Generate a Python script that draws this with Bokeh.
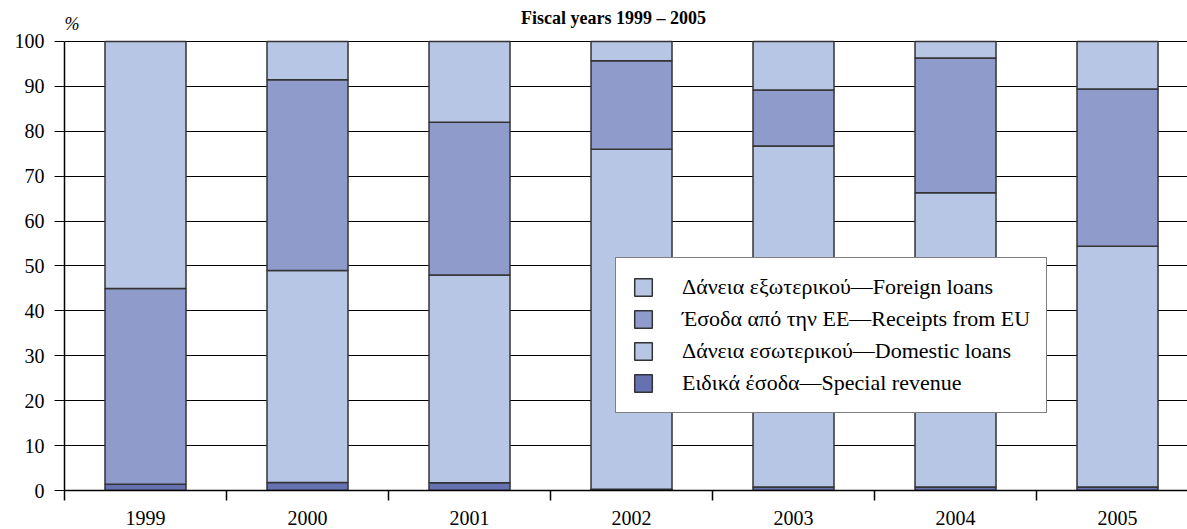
from bokeh.plotting import figure
from bokeh.models import ColumnDataSource, FixedTicker, Legend, LegendItem, Range1d
from bokeh.core.properties import value
from bokeh.embed import file_html
from bokeh.resources import INLINE

years = ["1999", "2000", "2001", "2002", "2003", "2004", "2005"]
special = [1.4, 1.8, 1.7, 0.3, 0.8, 0.8, 0.8]
domestic = [0.0, 47.2, 46.3, 75.7, 75.9, 65.5, 53.6]
eu = [43.6, 42.5, 34.0, 19.7, 12.5, 30.0, 35.0]
foreign = [55.0, 8.5, 18.0, 4.3, 10.8, 3.7, 10.6]

labels = {
    "foreign": "Δάνεια εξωτερικού—Foreign loans",
    "eu": "Έσοδα από την ΕΕ—Receipts from EU",
    "domestic": "Δάνεια εσωτερικού—Domestic loans",
    "special": "Ειδικά έσοδα—Special revenue",
}
colors = {"special": "#6571B0", "domestic": "#B7C6E5", "eu": "#8F9CCB", "foreign": "#B7C6E5"}
title_text = "Fiscal years 1999 – 2005"
unit_text = "%"

FONT = "Liberation Serif"

src = ColumnDataSource(dict(x=list(range(len(years))), special=special, domestic=domestic, eu=eu, foreign=foreign))

p = figure(width=1187, height=529, output_backend="svg", toolbar_location=None, title=None,
           x_range=Range1d(-0.5, 6.432), y_range=Range1d(0, 109.13),
           min_border_left=64, min_border_right=0, min_border_top=0, min_border_bottom=39)
p.outline_line_color = None
p.background_fill_color = "white"
p.border_fill_color = "white"

stack = ["special", "domestic", "eu", "foreign"]
rs = p.vbar_stack(stack, x="x", width=0.5, source=src,
                  color=[colors[s] for s in stack],
                  line_color="#333333", line_width=1.5)
rmap = dict(zip(stack, rs))

# axes
p.xgrid.grid_line_color = None
p.ygrid.grid_line_color = "black"
p.ygrid.grid_line_width = 1.2
p.yaxis.ticker = FixedTicker(ticks=list(range(0, 101, 10)))
p.yaxis.bounds = (0, 100)
p.xaxis.ticker = FixedTicker(ticks=list(range(len(years))), minor_ticks=[i - 0.5 for i in range(len(years) + 1)])
p.xaxis.major_label_overrides = {i: y for i, y in enumerate(years)}
for ax in (p.xaxis, p.yaxis):
    ax.axis_line_color = "black"
    ax.axis_line_width = 1.5
    ax.major_label_text_font = FONT
    ax.major_label_text_font_size = "20px"
    ax.major_label_text_color = "black"
p.xaxis.major_tick_in = 0
p.xaxis.major_tick_out = 0
p.xaxis.minor_tick_in = 0
p.xaxis.minor_tick_out = 10
p.xaxis.minor_tick_line_color = "black"
p.xaxis.minor_tick_line_width = 1.5
p.xaxis.major_label_standoff = 10
p.yaxis.major_tick_in = 0
p.yaxis.major_tick_out = 10
p.yaxis.major_tick_line_color = "black"
p.yaxis.major_tick_line_width = 1.2
p.yaxis.minor_tick_line_color = None
p.yaxis.major_label_standoff = 10

# legend
items = [LegendItem(label=labels[k], renderers=[rmap[k]]) for k in ["foreign", "eu", "domestic", "special"]]
leg = Legend(items=items, location=(551, 77),
             label_text_font=FONT, label_text_font_size="22px", label_text_color="black",
             border_line_color="black", border_line_width=1.2, background_fill_alpha=1,
             padding=16, spacing=6, glyph_height=22, glyph_width=22, label_height=22,
             label_standoff=28, margin=0)
p.add_layout(leg)

# unit sign and title, drawn above the 100 line
p.text(x=[-0.5], y=[103.8], text=[unit_text], text_align="left", text_baseline="alphabetic",
       text_font=value(FONT), text_font_style="italic", text_font_size="18px", text_color="black")
p.text(x=[2.889], y=[105.3], text=[title_text], text_align="center", text_baseline="alphabetic",
       text_font=value(FONT), text_font_style="bold", text_font_size="18px", text_color="black")

open("out.html", "w").write(file_html(p, INLINE))
